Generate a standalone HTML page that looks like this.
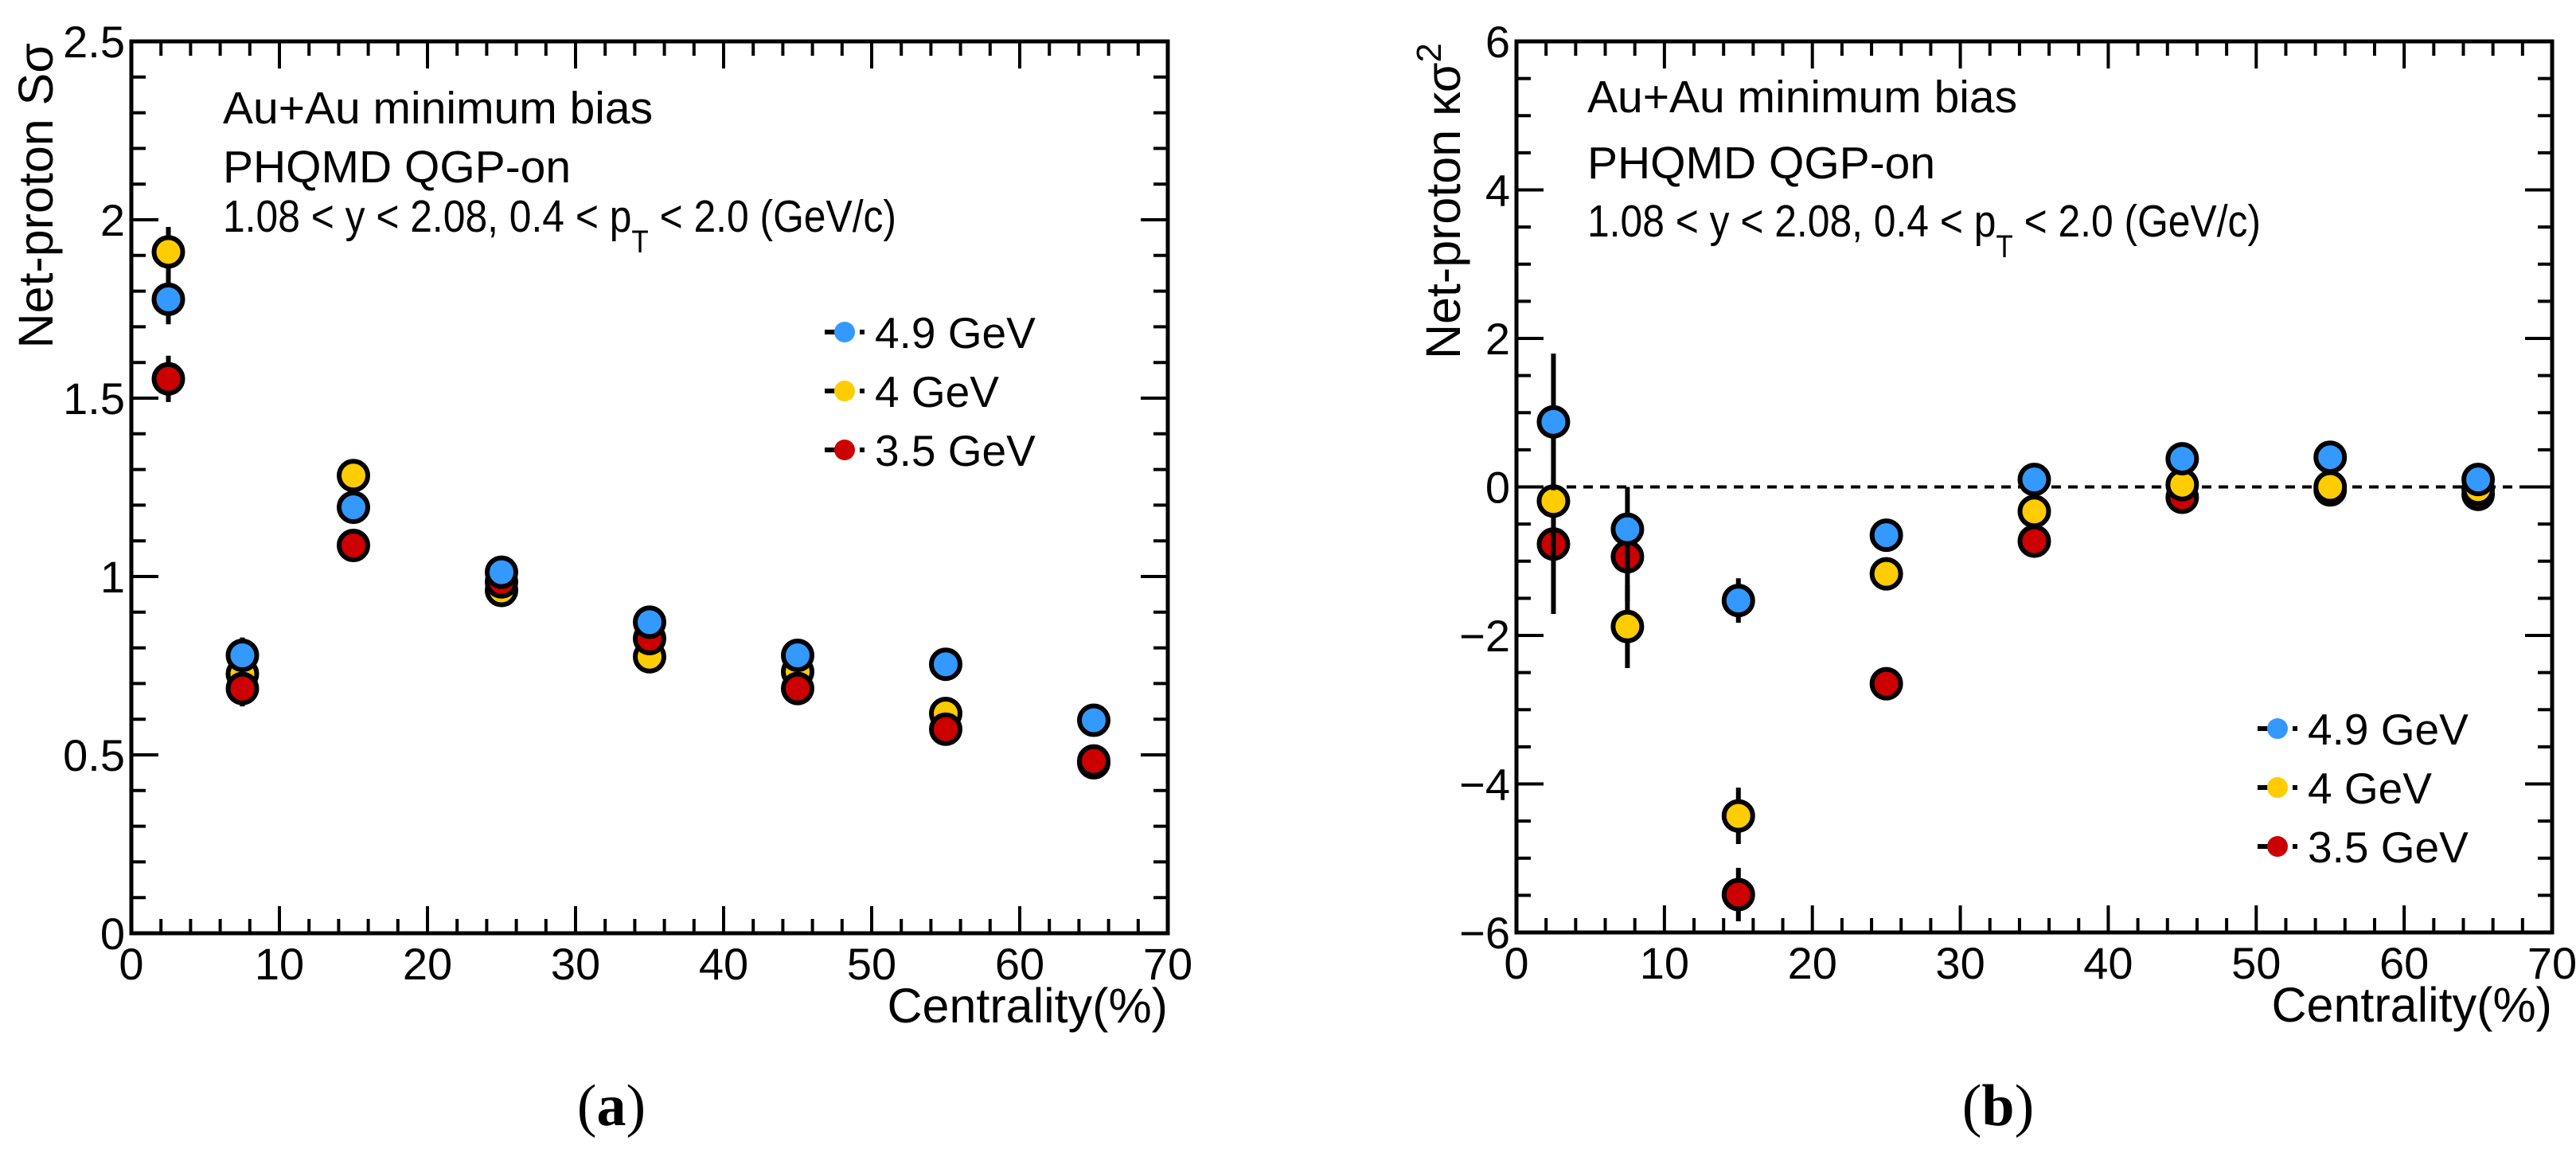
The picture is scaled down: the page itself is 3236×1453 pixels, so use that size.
<!DOCTYPE html>
<html><head><meta charset="utf-8">
<style>
html,body{margin:0;padding:0;background:#fff;}
svg{display:block;font-family:"Liberation Sans",sans-serif;}
</style></head>
<body>
<svg id="fig" width="3236" height="1453" viewBox="0 0 3236 1453" xmlns="http://www.w3.org/2000/svg">
<rect width="3236" height="1453" fill="#fff"/>
<g id="panelA"></g>
<g id="panelB"></g>
</svg>
<script>
// ---- shared data ----
const centrality = [2.5, 7.5, 15, 25, 35, 45, 55, 65];
const seriesNames = ["3.5 GeV", "4 GeV", "4.9 GeV"];
const seriesColors = ["#cc0000", "#ffcc00", "#3399ff"];
// Panel (a): S sigma
const sSigma35 = [1.554, 0.686, 1.087, 0.985, 0.826, 0.686, 0.572, 0.483];
const sSigma4  = [1.91, 0.727, 1.283, 0.961, 0.775, 0.733, 0.616, 0.478];
const sSigma49 = [1.777, 0.779, 1.194, 1.012, 0.872, 0.779, 0.754, 0.597];
const sSigmaErr35 = [0.065, 0.05, 0.03, 0.02, 0.02, 0.02, 0.02, 0.02];
const sSigmaErr4  = [0.07, 0.05, 0.03, 0.02, 0.02, 0.02, 0.02, 0.02];
const sSigmaErr49 = [0.07, 0.05, 0.03, 0.02, 0.02, 0.02, 0.02, 0.02];
// Panel (b): kappa sigma^2
const kSigma35 = [-0.77, -0.94, -5.49, -2.65, -0.73, -0.14, -0.04, -0.10];
const kSigma4  = [-0.19, -1.88, -4.43, -1.17, -0.33, 0.03, 0.0, -0.03];
const kSigma49 = [0.876, -0.57, -1.53, -0.65, 0.10, 0.38, 0.40, 0.10];
const kSigmaErr35 = [0.94, 0.6, 0.36, 0.2, 0.1, 0.1, 0.05, 0.05];
const kSigmaErr4  = [0.9, 0.56, 0.38, 0.2, 0.1, 0.1, 0.05, 0.05];
const kSigmaErr49 = [0.92, 0.57, 0.3, 0.15, 0.1, 0.1, 0.05, 0.05];
const xTicksLabels = ["0","10","20","30","40","50","60","70"];
const yTicksA = ["0","0.5","1","1.5","2","2.5"];
const yTicksB = ["\u22126","\u22124","\u22122","0","2","4","6"];

const NS = "http://www.w3.org/2000/svg";
function mk(parent, tag, attrs, text){
  const e = document.createElementNS(NS, tag);
  for (const k in attrs) e.setAttribute(k, attrs[k]);
  if (text !== undefined) e.textContent = text;
  parent.appendChild(e);
  return e;
}

function drawPanel(g, cfg){
  const L=cfg.L, R=cfg.R, T=cfg.T, B=cfg.B;
  const sx = v => L + (v - 0) / 70 * (R - L);
  const sy = v => B - (v - cfg.ymin) / (cfg.ymax - cfg.ymin) * (B - T);
  const ticks = mk(g,'g',{stroke:'#000','stroke-width':4});
  
  
  for (let v=0; v<=70+1e-6; v+=2){
    const major = Math.abs(v%10)<1e-6;
    const len = major?34:18;
    mk(ticks,'line',{x1:sx(v),x2:sx(v),y1:B,y2:B-len});
    mk(ticks,'line',{x1:sx(v),x2:sx(v),y1:T,y2:T+len});
  }
  const nMin = Math.round((cfg.ymax-cfg.ymin)/cfg.minor);
  for (let i=0;i<=nMin;i++){
    const v = cfg.ymin + i*cfg.minor;
    const major = (i % cfg.perMajor)===0;
    const len = major?34:18;
    mk(ticks,'line',{x1:L,x2:L+len,y1:sy(v),y2:sy(v)});
    mk(ticks,'line',{x1:R,x2:R-len,y1:sy(v),y2:sy(v)});
  }
  const fr = mk(g,'rect',{x:L,y:T,width:R-L,height:B-T,fill:'none',stroke:'#000','stroke-width':5});
  
  
  xTicksLabels.forEach((t,i)=>{
    const e = mk(g,'text',{x:sx(+t),y:B+58,'font-size':56,'text-anchor':'middle'},t);
    
    
  });
  cfg.yLabels.forEach((t,i)=>{
    const v = cfg.ymin + i*cfg.minor*cfg.perMajor;
    const e = mk(g,'text',{x:L-8,y:sy(v)+20,'font-size':56,'text-anchor':'end'},t);
    
    
  });
  const xt = mk(g,'text',{x:R,y:B+112,'font-size':61,'text-anchor':'end'},'Centrality(%)');
  
  
  const yt = mk(g,'text',{x:0,y:0,'font-size':61,'text-anchor':'end',transform:`translate(${cfg.ytx},${T+2}) rotate(-90)`});
  
  
  yt.innerHTML = cfg.ytitle;
  if (cfg.zeroLine){
    const zl = mk(g,'line',{x1:L,x2:R,y1:sy(0),y2:sy(0),stroke:'#000','stroke-width':4,'stroke-dasharray':'12 9'});
    
    
  }
  const ann = mk(g,'g',{'font-size':57});
  
  
  mk(ann,'text',{x:cfg.ax,y:cfg.ay[0]},'Au+Au minimum bias');
  mk(ann,'text',{x:cfg.ax,y:cfg.ay[1]},'PHQMD QGP-on');
  const t3 = mk(ann,'text',{x:cfg.ax,y:cfg.ay[2],textLength:846,lengthAdjust:'spacingAndGlyphs'});
  t3.innerHTML = '1.08 &lt; y &lt; 2.08, 0.4 &lt; p<tspan dy="26" font-size="40">T</tspan><tspan dy="-26"> &lt; 2.0 (GeV/c)</tspan>';
  const vals = [cfg.v35, cfg.v4, cfg.v49];
  const errs = [cfg.e35, cfg.e4, cfg.e49];
  cfg.drawOrder.forEach(s=>{
    const sg = mk(g,'g',{});
    
    
    vals[s].forEach((v,i)=>{
      const x=sx(centrality[i]), y=sy(v), e=errs[s][i];
      const bar = mk(sg,'line',{x1:x,x2:x,y1:sy(v+e),y2:sy(v-e),stroke:'#000','stroke-width':6});
      
      
      const c = mk(sg,'circle',{cx:x,cy:y,r:18,fill:seriesColors[s],stroke:'#000','stroke-width':6});
      
      
    });
  });
  const lg = mk(g,'g',{});
  
  
  [2,1,0].forEach((s,k)=>{
    const y = cfg.lgy + k*cfg.lgdy;
    const le = mk(lg,'g',{});
    
    
    mk(le,'line',{x1:cfg.lgx-25,x2:cfg.lgx+25,y1:y,y2:y,stroke:'#000','stroke-width':6,'stroke-dasharray':'14 8'});
    mk(le,'circle',{cx:cfg.lgx,cy:y,r:13,fill:seriesColors[s]});
    mk(le,'text',{x:cfg.lgx+38,y:y+20,'font-size':55},seriesNames[s]);
  });
  const pl = mk(g,'text',{x:cfg.plx,y:1413,'font-size':74,'text-anchor':'middle','font-family':'Liberation Serif, serif'});
  
  
  pl.innerHTML = '(<tspan font-weight="bold">'+cfg.pl+'</tspan>)';
}

drawPanel(document.getElementById('panelA'),{
  L:165,R:1467,T:52,B:1172,ymin:0,ymax:2.5,minor:0.1,perMajor:5,yLabels:yTicksA,
  ytx:66,ytitle:'Net-proton S\u03c3',zeroLine:false,
  ax:280,ay:[155,229,291],
  v35:sSigma35,v4:sSigma4,v49:sSigma49,e35:sSigmaErr35,e4:sSigmaErr4,e49:sSigmaErr49,
  drawOrder:[1,0,2],
  lgx:1061,lgy:417,lgdy:74,plx:768,pl:'a'
});
drawPanel(document.getElementById('panelB'),{
  L:1905,R:3206,T:52,B:1171,ymin:-6,ymax:6,minor:0.5,perMajor:4,yLabels:yTicksB,
  ytx:1834,ytitle:'Net-proton \u03ba\u03c3<tspan dy="-24" font-size="44">2</tspan>',zeroLine:true,
  ax:1994,ay:[141,224,297],
  v35:kSigma35,v4:kSigma4,v49:kSigma49,e35:kSigmaErr35,e4:kSigmaErr4,e49:kSigmaErr49,
  drawOrder:[0,1,2],
  lgx:2861,lgy:915,lgdy:74,plx:2510,pl:'b'
});
</script>
</body></html>
